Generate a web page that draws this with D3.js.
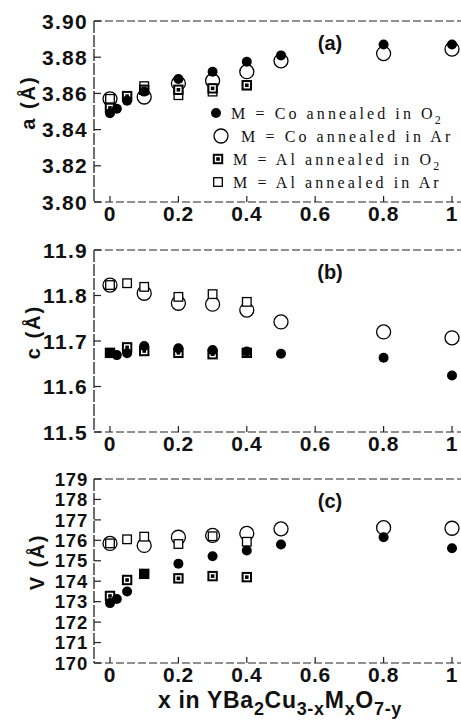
<!DOCTYPE html>
<html>
<head>
<meta charset="utf-8">
<script src="https://cdn.jsdelivr.net/npm/d3@7"></script>
<style>
  body { margin: 0; background: #fff; }
  text { fill: #111; }
</style>
</head>
<body>
<div id="chart"></div>
<script>
// x values (composition) for each series
const xTicks = [0, 0.2, 0.4, 0.6, 0.8, 1];
const xTickLabels = ["0", "0.2", "0.4", "0.6", "0.8", "1"];
const coO2X = [0, 0.02, 0.05, 0.1, 0.2, 0.3, 0.4, 0.5, 0.8, 1];
const coArX = [0, 0.1, 0.2, 0.3, 0.4, 0.5, 0.8, 1];
const alArX = [0, 0.05, 0.1, 0.2, 0.3, 0.4];
const alO2X = [0, 0.05, 0.1, 0.2, 0.3, 0.4];

// (a) lattice parameter a
const aTicks = [3.80, 3.82, 3.84, 3.86, 3.88, 3.90];
const aCoO2 = [3.849, 3.8515, 3.856, 3.861, 3.868, 3.872, 3.8775, 3.881, 3.887, 3.887];
const aCoAr = [3.857, 3.858, 3.8655, 3.867, 3.872, 3.878, 3.882, 3.8845];
const aAlAr = [3.857, 3.858, 3.864, 3.859, 3.861, 3.8645];
const aAlO2 = [3.852, 3.8585, 3.862, 3.862, 3.8628, 3.8645];

// (b) lattice parameter c
const cTicks = [11.5, 11.6, 11.7, 11.8, 11.9];
const cCoO2 = [11.673, 11.669, 11.673, 11.689, 11.684, 11.680, 11.677, 11.672, 11.663, 11.624];
const cCoAr = [11.823, 11.805, 11.783, 11.781, 11.768, 11.742, 11.720, 11.707];
const cAlAr = [11.823, 11.827, 11.819, 11.797, 11.803, 11.786];
const cAlO2 = [11.674, 11.686, 11.678, 11.674, 11.671, 11.674];

// (c) cell volume V
const vTicks = [170, 171, 172, 173, 174, 175, 176, 177, 178, 179];
const vCoO2 = [172.93, 173.13, 173.5, 174.35, 174.86, 175.22, 175.5, 175.8, 176.15, 175.61];
const vCoAr = [175.85, 175.75, 176.15, 176.24, 176.34, 176.56, 176.62, 176.59];
const vAlAr = [175.85, 176.05, 176.18, 175.82, 176.2, 175.93];
const vAlO2 = [173.28, 174.06, 174.36, 174.14, 174.25, 174.2];

const legendLabels = [
  ["M = Co annealed in O", "2"],
  ["M = Co annealed in Ar", ""],
  ["M = Al annealed in O", "2"],
  ["M = Al annealed in Ar", ""]
];

const width = 461, height = 726;
const left = 94, right = 461;

const svg = d3.select("#chart").append("svg")
  .attr("width", width)
  .attr("height", height)
  .style("font-family", "'Liberation Sans', Arial, sans-serif");

const x = d3.scaleLinear().domain([0, 1]).range([110, 452]);

const panels = [
  { label: "(a)", yLabel: "a (Å)", top: 21, bottom: 202, ticks: aTicks, fmt: d3.format(".2f"),
    tickSize: 21, labelX: 28,
    coO2: aCoO2, coAr: aCoAr, alAr: aAlAr, alO2: aAlO2 },
  { label: "(b)", yLabel: "c (Å)", top: 250, bottom: 432, ticks: cTicks, fmt: d3.format(".1f"),
    tickSize: 21, labelX: 33,
    coO2: cCoO2, coAr: cCoAr, alAr: cAlAr, alO2: cAlO2 },
  { label: "(c)", yLabel: "V (Å)", top: 479, bottom: 663, ticks: vTicks, fmt: d3.format("d"),
    tickSize: 18.5, labelX: 37,
    coO2: vCoO2, coAr: vCoAr, alAr: vAlAr, alO2: vAlO2 }
];

const dash = "8,3";

function drawMarker(g, kind, cx, cy) {
  if (kind === "coO2") {
    g.append("circle").attr("cx", cx).attr("cy", cy).attr("r", 5)
      .attr("fill", "#000");
  } else if (kind === "coAr") {
    g.append("circle").attr("cx", cx).attr("cy", cy).attr("r", 7)
      .attr("fill", "#fff").attr("stroke", "#000").attr("stroke-width", 1.3);
  } else if (kind === "alAr") {
    g.append("rect").attr("x", cx - 4.3).attr("y", cy - 4.3)
      .attr("width", 8.6).attr("height", 8.6)
      .attr("fill", "#fff").attr("stroke", "#000").attr("stroke-width", 1.3);
  } else {
    g.append("rect").attr("x", cx - 4.2).attr("y", cy - 4.2)
      .attr("width", 8.4).attr("height", 8.4)
      .attr("fill", "#fff").attr("stroke", "#000").attr("stroke-width", 2);
    g.append("rect").attr("x", cx - 1.8).attr("y", cy - 1.8)
      .attr("width", 3.6).attr("height", 3.6).attr("fill", "#000");
  }
}

panels.forEach(p => {
  const y = d3.scaleLinear()
    .domain([p.ticks[0], p.ticks[p.ticks.length - 1]])
    .range([p.bottom, p.top]);
  const g = svg.append("g");

  // dashed frame: top, bottom, left
  g.append("line").attr("x1", left).attr("x2", right).attr("y1", p.top).attr("y2", p.top)
    .attr("stroke", "#222").attr("stroke-width", 1.2).attr("stroke-dasharray", dash);
  g.append("line").attr("x1", left).attr("x2", right).attr("y1", p.bottom).attr("y2", p.bottom)
    .attr("stroke", "#222").attr("stroke-width", 1.2).attr("stroke-dasharray", dash);
  g.append("line").attr("x1", left).attr("x2", left).attr("y1", p.top).attr("y2", p.bottom)
    .attr("stroke", "#222").attr("stroke-width", 1.3).attr("stroke-dasharray", "12,2");

  // y ticks and labels
  p.ticks.forEach(t => {
    g.append("line").attr("x1", left).attr("x2", left + 7).attr("y1", y(t)).attr("y2", y(t))
      .attr("stroke", "#222").attr("stroke-width", 1.2);
    g.append("text").attr("x", 88).attr("y", y(t))
      .attr("dy", "0.36em").attr("text-anchor", "end")
      .attr("font-size", p.tickSize).attr("font-weight", "bold")
      .attr("letter-spacing", p.tickSize > 20 ? 1.3 : 0.8)
      .text(p.fmt(t));
  });

  // x ticks and labels
  xTicks.forEach((t, i) => {
    g.append("line").attr("x1", x(t)).attr("x2", x(t)).attr("y1", p.bottom).attr("y2", p.bottom - 6)
      .attr("stroke", "#222").attr("stroke-width", 1.2);
    g.append("text").attr("x", x(t)).attr("y", p.bottom + 19)
      .attr("text-anchor", "middle")
      .attr("font-size", 21).attr("font-weight", "bold")
      .attr("letter-spacing", 0.6)
      .text(xTickLabels[i]);
  });

  // y axis title
  g.append("text")
    .attr("transform", `translate(${p.labelX},${(p.top + p.bottom) / 2 - 9}) rotate(-90)`)
    .attr("text-anchor", "middle").attr("dy", "0.35em")
    .attr("font-size", 20).attr("font-weight", "bold")
    .attr("letter-spacing", 2)
    .text(p.yLabel);

  // panel label
  g.append("text").attr("x", 330).attr("y", p.top + 22)
    .attr("dy", "0.35em").attr("text-anchor", "middle")
    .attr("font-size", 20).attr("font-weight", "bold")
    .text(p.label);

  // markers: open circles, then squares, then filled circles
  const marks = svg.append("g");
  coArX.forEach((xv, i) => drawMarker(marks, "coAr", x(xv), y(p.coAr[i])));
  alArX.forEach((xv, i) => drawMarker(marks, "alAr", x(xv), y(p.alAr[i])));
  alO2X.forEach((xv, i) => drawMarker(marks, "alO2", x(xv), y(p.alO2[i])));
  coO2X.forEach((xv, i) => drawMarker(marks, "coO2", x(xv), y(p.coO2[i])));
});

// legend in panel (a)
const legend = svg.append("g").style("font-family", "'Liberation Serif', 'Times New Roman', serif");
const legendKinds = ["coO2", "coAr", "alO2", "alAr"];
const legendY = [113, 136, 159, 182];
const legendMarkX = [216, 221, 218, 218];
const legendTextX = [231, 241, 233, 233];
legendLabels.forEach((lab, i) => {
  drawMarker(legend, legendKinds[i], legendMarkX[i], legendY[i]);
  const t = legend.append("text").attr("x", legendTextX[i]).attr("y", legendY[i] + 5.5)
    .attr("font-size", 16).attr("letter-spacing", 3.1);
  t.append("tspan").text(lab[0]);
  if (lab[1]) {
    t.append("tspan").attr("dy", 5.5).attr("dx", -1).attr("font-size", 12).text(lab[1]);
  }
});

// x axis title
const xt = svg.append("text").attr("x", 280).attr("y", 708)
  .attr("text-anchor", "middle").attr("font-size", 23).attr("font-weight", "bold")
  .attr("letter-spacing", 0.7);
const parts = [["x in YBa", 0], ["2", 1], ["Cu", 0], ["3-x", 1], ["M", 0], ["x", 1], ["O", 0], ["7-y", 1]];
let shifted = false;
parts.forEach(([s, sub]) => {
  const ts = xt.append("tspan").text(s).attr("font-size", sub ? 18 : 23);
  if (sub && !shifted) { ts.attr("dy", 7); shifted = true; }
  if (!sub && shifted) { ts.attr("dy", -7); shifted = false; }
});
</script>
</body>
</html>
